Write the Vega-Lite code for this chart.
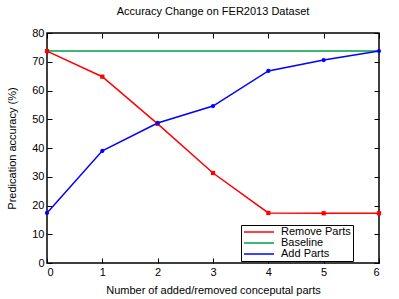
{
  "$schema": "https://vega.github.io/schema/vega-lite/v6.json",
  "width": 332,
  "height": 230,
  "autosize": {"type": "none"},
  "padding": {"left": 47, "top": 33, "right": 20, "bottom": 36},
  "background": "white",
  "title": {"text": "Accuracy Change on FER2013 Dataset", "fontSize": 11, "fontWeight": "normal", "font": "Liberation Sans", "color": "#000000", "offset": 10},
  "config": {
    "font": "Liberation Sans",
    "view": {"stroke": "#000000", "strokeWidth": 1.5},
    "axis": {"grid": false, "domain": false, "tickColor": "#000000", "tickSize": -5, "tickWidth": 1, "labelFontSize": 11, "labelColor": "#000000", "titleFontSize": 11, "titleFontWeight": "normal", "titleColor": "#000000", "labelPadding": 8}
  },
  "data": {"values": [
    {"n": 0, "acc": 73.7, "series": "Remove Parts"},
    {"n": 1, "acc": 64.8, "series": "Remove Parts"},
    {"n": 2, "acc": 48.4, "series": "Remove Parts"},
    {"n": 3, "acc": 31.3, "series": "Remove Parts"},
    {"n": 4, "acc": 17.4, "series": "Remove Parts"},
    {"n": 5, "acc": 17.3, "series": "Remove Parts"},
    {"n": 6, "acc": 17.3, "series": "Remove Parts"},
    {"n": 0, "acc": 73.7, "series": "Baseline"},
    {"n": 6, "acc": 73.7, "series": "Baseline"},
    {"n": 0, "acc": 17.4, "series": "Add Parts"},
    {"n": 1, "acc": 39.0, "series": "Add Parts"},
    {"n": 2, "acc": 48.7, "series": "Add Parts"},
    {"n": 3, "acc": 54.6, "series": "Add Parts"},
    {"n": 4, "acc": 66.8, "series": "Add Parts"},
    {"n": 5, "acc": 70.6, "series": "Add Parts"},
    {"n": 6, "acc": 73.7, "series": "Add Parts"}
  ]},
  "layer": [
    {
      "mark": {"type": "line", "strokeWidth": 1.5},
      "encoding": {
        "x": {"field": "n", "type": "quantitative", "scale": {"domain": [0, 6], "nice": false}, "axis": {"orient": "bottom", "values": [0,1,2,3,4,5,6], "format": "d", "title": "Number of added/removed conceputal parts", "titlePadding": 7}},
        "y": {"field": "acc", "type": "quantitative", "scale": {"domain": [0, 80], "nice": false}, "axis": {"orient": "left", "values": [0,10,20,30,40,50,60,70,80], "title": "Predication accuracy (%)", "titlePadding": 14}},
        "color": {"field": "series", "type": "nominal", "scale": {"domain": ["Remove Parts", "Baseline", "Add Parts"], "range": ["#ff0000", "#009e49", "#0000ff"]},
          "legend": {"title": null, "orient": "none", "legendX": 194, "legendY": 192, "symbolType": "stroke", "symbolStrokeWidth": 1.5, "symbolSize": 900, "labelFontSize": 11, "labelColor": "#000000", "strokeColor": "#000000", "fillColor": "white", "padding": 2, "rowPadding": 0, "clipHeight": 10, "labelLimit": 200, "labelOffset": 6}},
        "detail": {"field": "series"}
      }
    },
    {
      "transform": [{"filter": "datum.series !== 'Baseline'"}],
      "mark": {"type": "point", "filled": true, "opacity": 1, "size": 18},
      "encoding": {
        "x": {"field": "n", "type": "quantitative", "axis": {"orient": "top", "values": [0,1,2,3,4,5,6], "labels": false, "title": null}},
        "y": {"field": "acc", "type": "quantitative", "axis": {"orient": "right", "values": [0,10,20,30,40,50,60,70,80], "labels": false, "title": null}},
        "color": {"field": "series", "type": "nominal", "legend": null},
        "shape": {"field": "series", "type": "nominal", "scale": {"domain": ["Remove Parts", "Add Parts"], "range": ["square", "circle"]}, "legend": null}
      }
    }
  ]
}
